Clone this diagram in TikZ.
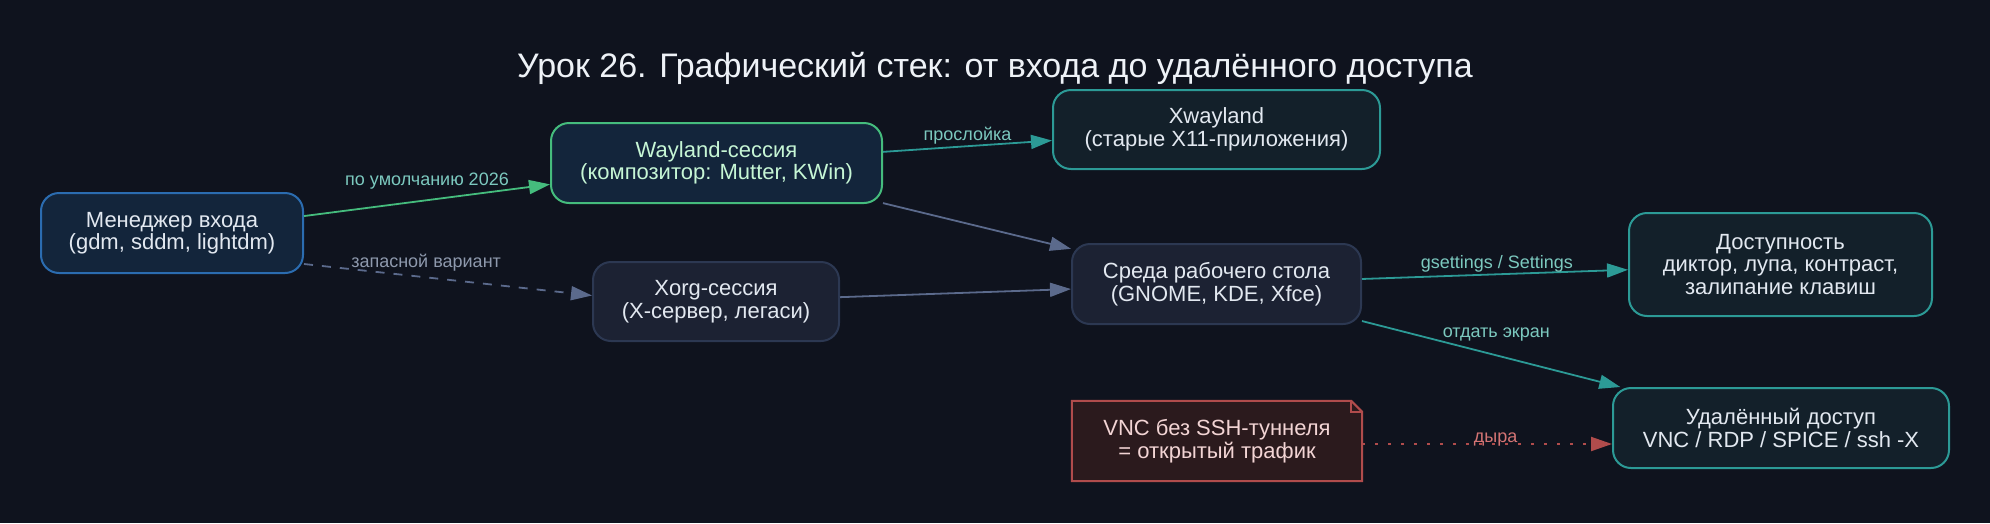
\documentclass[tikz,border=0pt]{standalone}
\usepackage{fontspec}
\setmainfont{Liberation Sans}
\usetikzlibrary{arrows.meta}
\definecolor{bgc}{HTML}{0F131E}
\definecolor{fblue}{HTML}{13253B}
\definecolor{cblue}{HTML}{2B6CB0}
\definecolor{cgreen}{HTML}{45BC7D}
\definecolor{tgreen}{HTML}{C6F6D5}
\definecolor{fteal}{HTML}{13202A}
\definecolor{cteal}{HTML}{2C9A96}
\definecolor{fslate}{HTML}{1C2233}
\definecolor{cslate}{HTML}{2C3852}
\definecolor{eslate}{HTML}{5B6A8C}
\definecolor{fred}{HTML}{2B1A1D}
\definecolor{cred}{HTML}{B04C4C}
\definecolor{tred}{HTML}{F2D4D4}
\definecolor{txt}{HTML}{E2E8F0}
\definecolor{ttl}{HTML}{EEF2F7}
\definecolor{lteal}{HTML}{7CC9BF}
\definecolor{lgrey}{HTML}{8E99AD}
\definecolor{lred}{HTML}{D47474}
\pgfdeclarelayer{back}
\pgfsetlayers{back,main}
\begin{document}
\begin{tikzpicture}[x=1pt,y=-1pt,
  nbox/.style={rounded corners=18pt, line width=2pt, inner sep=0pt, align=center,
    text=txt, font=\fontsize{22}{22.5}\selectfont},
  bluebox/.style={nbox, draw=cblue, fill=fblue},
  greenbox/.style={nbox, draw=cgreen, fill=fblue, text=tgreen},
  tealbox/.style={nbox, draw=cteal, fill=fteal},
  slatebox/.style={nbox, draw=cslate, fill=fslate},
  notebox/.style={inner sep=0pt, align=center, text=tred, font=\fontsize{22}{22.5}\selectfont},
  edge/.style={line width=1.8pt, -{Triangle[length=21pt,width=14pt]}},
  lbl/.style={anchor=base, inner sep=0pt, font=\fontsize{18}{18}\selectfont}
]
\begin{pgfonlayer}{back}
\fill[bgc] (0,0) rectangle (1990,523);
\end{pgfonlayer}
\useasboundingbox (0,0) rectangle (1990,523);

\node[anchor=base, text=ttl, font=\fontsize{34}{34}\selectfont] (title) at (995,77)
  {Урок 26. Графический стек: от входа до удалённого доступа};

\node[bluebox, minimum width=262pt, minimum height=80pt] (m) at (172,233)
  {Менеджер входа\\(gdm, sddm, lightdm)};
\node[greenbox, minimum width=331pt, minimum height=80pt] (wl) at (716.5,163)
  {Wayland-сессия\\(композитор: Mutter, KWin)};
\node[tealbox, minimum width=327pt, minimum height=79pt] (xw) at (1216.5,129.5)
  {Xwayland\\(старые X11-приложения)};
\node[slatebox, minimum width=246pt, minimum height=79pt] (xorg) at (716,301.5)
  {Xorg-сессия\\(X-сервер, легаси)};
\node[slatebox, minimum width=289pt, minimum height=80pt] (desk) at (1216.5,284)
  {Среда рабочего стола\\(GNOME, KDE, Xfce)};
\node[tealbox, minimum width=303pt, minimum height=103pt] (acc) at (1780.5,264.5)
  {Доступность\\диктор, лупа, контраст,\\залипание клавиш};
\node[tealbox, minimum width=336pt, minimum height=80pt] (rem) at (1781,428)
  {Удалённый доступ\\VNC / RDP / SPICE / ssh -X};
\node[notebox, minimum width=290pt, minimum height=80pt] (vnc) at (1217,441)
  {VNC без SSH-туннеля\\= открытый трафик};
\begin{pgfonlayer}{back}
\filldraw[fill=fred, draw=cred, line width=2pt, line join=miter]
  (vnc.south west) -- (vnc.north west) -- ([xshift=-11pt]vnc.north east)
  -- ([yshift=-11pt]vnc.north east) -- (vnc.south east) -- cycle;
\draw[cred, line width=1.5pt]
  ([xshift=-11pt]vnc.north east) -- ([xshift=-11pt,yshift=-11pt]vnc.north east)
  -- ([yshift=-11pt]vnc.north east);
\end{pgfonlayer}

\draw[edge, cgreen] (m) -- node[lbl, pos=0.5, yshift=15pt, text=lteal] {по умолчанию 2026} (wl);
\draw[edge, eslate, dash pattern=on 9pt off 9pt]
  ([yshift=-31pt]m.east) -- node[lbl, pos=0.424, yshift=10pt, text=lgrey] {запасной вариант}
  ([yshift=6pt]xorg.west);
\draw[edge, cteal] (wl) -- node[lbl, pos=0.5, yshift=6pt, text=lteal] {прослойка} (xw);
\draw[edge, eslate] (wl) -- (desk);
\draw[edge, eslate] (xorg) -- (desk);
\draw[edge, cteal] (desk) -- node[lbl, pos=0.507, yshift=6pt, text=lteal] {gsettings / Settings} (acc);
\draw[edge, cteal] (desk) -- node[lbl, pos=0.52, yshift=18pt, text=lteal] {отдать экран} (rem);
\draw[edge, cred, line width=2pt, dash pattern=on 2.5pt off 10.5pt]
  ([yshift=-3pt]vnc.east) -- node[lbl, pos=0.534, yshift=2pt, text=lred] {дыра}
  ([yshift=-16pt]rem.west);
\end{tikzpicture}
\end{document}
